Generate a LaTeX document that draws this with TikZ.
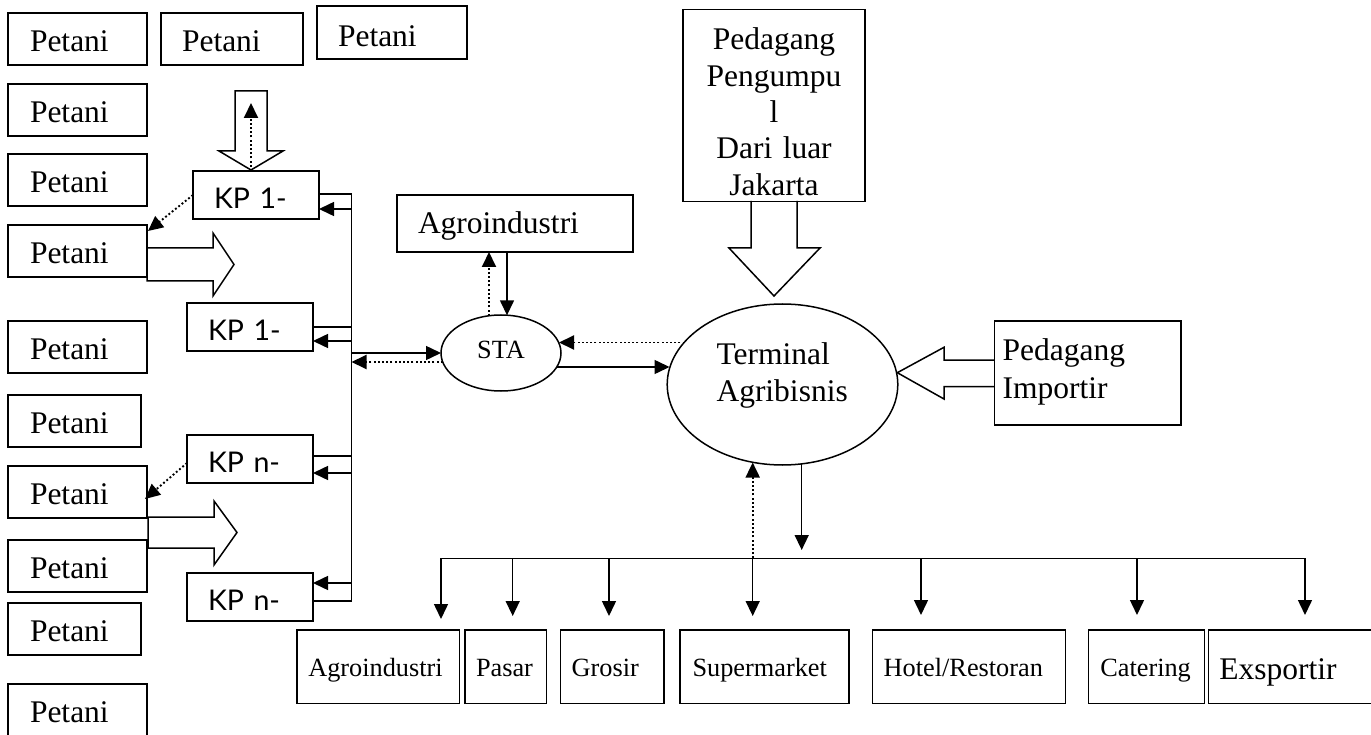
\documentclass[tikz,border=0pt]{standalone}
\usepackage{fontspec}
\setmainfont{Liberation Serif}
\newfontfamily\kpfamily{Lato}
\usetikzlibrary{arrows.meta,calc,shapes.geometric}
\hyphenpenalty=10000
\exhyphenpenalty=10000
\newcommand\fBig{\fontsize{31.5}{37.6}\selectfont}
\newcommand\fPP{\fontsize{31.5}{36.3}\selectfont}
\newcommand\fSmall{\fontsize{26.3}{30}\selectfont}
\newcommand\fKP{\kpfamily\fontsize{28.5}{30}\selectfont}
\tikzset{
  ln/.style={line width=1.5pt},
  bx/.style={draw, line width=1.5pt, anchor=north west, inner ysep=0pt, outer sep=0pt, align=left},
  pet/.style={bx, font=\fBig, inner xsep=22pt, text width=95pt, text height=38.7pt, text depth=13.3pt},
  kp/.style={bx, font=\fKP, inner xsep=21pt, text width=84pt, text height=37.5pt, text depth=10.5pt},
  sb/.style={bx, font=\fSmall, text height=46pt, text depth=27.3pt},
  ell/.style={draw, ellipse, line width=1.5pt, inner sep=0pt, outer sep=0pt},
  arr/.style={line width=1.5pt, -{Triangle[length=15pt,width=14pt]}},
  dotarr/.style={arr, line width=1.9pt, dash pattern=on 1.9pt off 2.3pt},
  blk/.style={line width=1.5pt, line join=miter}
}
\begin{document}
\begin{tikzpicture}[x=1pt,y=-1pt]
\fill[white] (0,0) rectangle (1371,735);
\useasboundingbox (0,0) rectangle (1371,735);

% Petani boxes
\node[pet] (pA) at (8,13) {Petani};
\node[pet, text width=100pt, inner xsep=21pt] (pB) at (161,13) {Petani};
\node[pet, text width=108pt, inner xsep=21pt, text height=40.7pt, text depth=12.3pt] (pC) at (317,6) {Petani};
\node[pet] (pD) at (8,84) {Petani};
\node[pet] (pE) at (8,154) {Petani};
\node[pet] (pF) at (8,225) {Petani};
\node[pet] (pG) at (8,321) {Petani};
\node[pet, text width=89pt] (pH) at (8,395) {Petani};
\node[pet] (pI) at (8,466) {Petani};
\node[pet] (pJ) at (8,540) {Petani};
\node[pet, text width=89pt] (pK) at (8,603) {Petani};
\node[pet, text depth=22pt] (pL) at (8,684) {Petani};

% KP boxes
\node[kp] (kp1a) at (193,171) {KP 1-};
\node[kp] (kp1b) at (187,303) {KP 1-};
\node[kp] (kpna) at (187,435) {KP n-};
\node[kp] (kpnb) at (187,573) {KP n-};

% upper nodes
\node[bx, font=\fBig, inner xsep=21pt, text width=194pt, text height=38.3pt, text depth=18.7pt] (agro1) at (397,195) {Agroindustri};
\node[bx, font=\fPP, align=center, inner xsep=5pt, text width=172pt, text height=40.7pt, text depth=151.3pt] (ppl) at (683,9.3) {Pedagang\\Pengumpu\\l\\Dari luar\\Jakarta};
\node[bx, font=\fBig, inner xsep=8.4pt, text width=170pt, text height=39.7pt, text depth=64.3pt] (imp) at (994.3,321) {Pedagang\\Importir};

\node[ell, minimum width=230.6pt, minimum height=161pt, font=\fBig, align=left, text width=132pt, text height=19.5pt, text depth=60.5pt] (term) at (782.5,384.5) {Terminal\\Agribisnis};
\node[ell, minimum width=120pt, minimum height=76pt, font=\fSmall, text height=25.3pt, text depth=14.7pt] (sta) at (501,353) {STA};

% bottom boxes
\node[sb, inner xsep=11.3pt, text width=139.7pt] (bagro) at (297,630) {Agroindustri};
\node[sb, inner xsep=11pt, text width=59.7pt] (bpasar) at (465,630) {Pasar};
\node[sb, inner xsep=11pt, text width=81.3pt] (bgrosir) at (560.7,630) {Grosir};
\node[sb, inner xsep=12.5pt, text width=144pt] (bsuper) at (680,630) {Supermarket};
\node[sb, inner xsep=11pt, text width=170.6pt] (bhotel) at (872.7,630) {Hotel/Restoran};
\node[sb, inner xsep=11.6pt, text width=92.4pt] (bcater) at (1088.7,630) {Catering};
\node[bx, font=\fBig, inner xsep=10.6pt, text width=200pt, text height=49.3pt, text depth=24pt] (bexp) at (1208.7,630) {Exsportir};

% block arrows
\draw[blk] (235,91) -- (267,91) -- (267,151) -- (283,151) -- (251,170) -- (219,151) -- (235,151) -- cycle;
\draw[blk] (147,248) -- (213,248) -- (213,233) -- (234,264.5) -- (213,296) -- (213,281) -- (147,281) -- cycle;
\draw[blk] (148,517) -- (214,517) -- (214,501) -- (237,532.5) -- (214,565) -- (214,548) -- (148,548) -- cycle;
\draw[blk] (751,201) -- (751,248) -- (729,248) -- (774,296) -- (820,248) -- (797,248) -- (797,201);
\draw[blk] (994.3,360) -- (944,360) -- (944,347.3) -- (897.3,372.7) -- (944,399) -- (944,386.7) -- (994.3,386.7);

% left bus
\coordinate (busT) at (351.5,194);
\coordinate (busB) at (351.5,601);
\draw[ln] (kp1a.east |- busT) -- (busT) -- (busB) -- (busB -| kpnb.east);
\draw[ln] (kp1b.east) -- (kp1b.east -| busT);
\draw[ln] ($(kpna.east)+(0,-3)$) -- ($(kpna.east -| busT)+(0,-3)$);
\draw[arr] ($(kp1a.east -| busT)+(0,14)$) -- ($(kp1a.east)+(0,14)$);
\draw[arr] ($(kp1b.east -| busT)+(0,14)$) -- ($(kp1b.east)+(0,14)$);
\draw[arr] ($(kpna.east -| busT)+(0,14)$) -- ($(kpna.east)+(0,14)$);
\draw[arr] ($(kpnb.east -| busT)+(0,-14)$) -- ($(kpnb.east)+(0,-14)$);

% KP to Petani dotted
\draw[dotarr] (kp1a.west) -- ($(pF.north east)+(1,6)$);
\draw[dotarr] ($(kpna.west)+(0,4)$) -- ($(pI.east)+(-2,7)$);
\draw[dotarr] ($(kp1a.north)+(-5,0)$) -- ($(kp1a.north)+(-5,-68)$);

% bus - STA
\draw[arr] (sta.west -| busT) -- (sta.west);
\draw[dotarr] ($(sta.west)+(1.7,9)$) -- ($(sta.west -| busT)+(0,9)$);

% STA - Agroindustri
\draw[dotarr] ($(sta.north)+(-12,0.8)$) -- ($(agro1.south)+(-26,0)$);
\draw[arr] ($(agro1.south)+(-8,0)$) -- ($(sta.north)+(6,0.3)$);

% Terminal - STA
\draw[dotarr] ($(term.center)+(-98,-42)$) -- ($(sta.east)+(-2,-10.5)$);
\draw[arr] ($(sta.east)+(-4,14)$) -- ($(term.center)+(-113,-17.5)$);

% bottom bus
\coordinate (b1) at (441,558.3);
\coordinate (b2) at (512.7,558.3);
\coordinate (b3) at (609,558.3);
\coordinate (b4) at (752.7,558.3);
\coordinate (b5) at (921,558.3);
\coordinate (b6) at (1137,558.3);
\coordinate (b7) at (1305,558.3);
\draw[arr] ($(term.center)+(19.2,79.3)$) -- ($(term.center)+(19.2,165.5)$);
\draw[dotarr] (b4) -- ($(term.center)+(-29.8,78)$);
\draw[arr] (b4) -- (b1) -- ($(b1 |- bagro.north)+(0,-11)$);
\draw[arr] (b4) -- (b7) -- ($(b7 |- bexp.north)+(0,-15)$);
\draw[arr] (b2) -- ($(b2 |- bpasar.north)+(0,-14)$);
\draw[arr] (b3) -- ($(b3 |- bgrosir.north)+(0,-14)$);
\draw[arr] (b4) -- ($(b4 |- bsuper.north)+(0,-14)$);
\draw[arr] (b5) -- ($(b5 |- bhotel.north)+(0,-15)$);
\draw[arr] (b6) -- ($(b6 |- bcater.north)+(0,-15)$);
\end{tikzpicture}
\end{document}
